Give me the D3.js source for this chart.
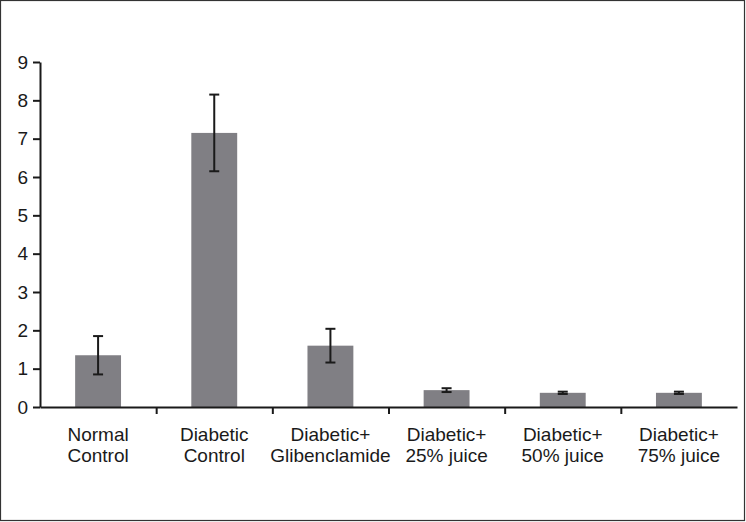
<!DOCTYPE html>
<html>
<head>
<meta charset="utf-8">
<script src="https://cdn.jsdelivr.net/npm/d3@7"></script>
<style>
html,body{margin:0;padding:0;background:#fff;}
svg{display:block;}
text{font-family:"Liberation Sans",Arial,sans-serif;fill:#1a1a1a;}
</style>
</head>
<body>
<script>
const categories = [
  ["Normal", "Control"],
  ["Diabetic", "Control"],
  ["Diabetic+", "Glibenclamide"],
  ["Diabetic+", "25% juice"],
  ["Diabetic+", "50% juice"],
  ["Diabetic+", "75% juice"]
];
const values = [1.35, 7.15, 1.6, 0.44, 0.37, 0.37];
const errors = [0.5, 1.0, 0.44, 0.05, 0.03, 0.03];
const yTicks = [0, 1, 2, 3, 4, 5, 6, 7, 8, 9];

const W = 746, H = 522;
const svg = d3.select("body").append("svg").attr("width", W).attr("height", H);

svg.append("rect").attr("x", 0.5).attr("y", 0.5).attr("width", W - 2).attr("height", H - 2)
  .attr("fill", "#fff").attr("stroke", "#333").attr("stroke-width", 1.2);

const ids = categories.map((c, i) => i);
const x = d3.scaleBand().domain(ids).range([40, 737]).padding(0);
const y = d3.scaleLinear().domain([0, 9]).range([407, 62]);

const barW = x.bandwidth() * 0.395;

// bars
svg.selectAll("rect.bar").data(ids).enter().append("rect")
  .attr("class", "bar")
  .attr("x", i => x(i) + (x.bandwidth() - barW) / 2)
  .attr("width", barW)
  .attr("y", i => y(values[i]))
  .attr("height", i => y(0) - y(values[i]))
  .attr("fill", "#807f84");

// error bars
const eg = svg.selectAll("g.err").data(ids).enter().append("g").attr("class", "err")
  .attr("stroke", "#1a1a1a").attr("stroke-width", 2);
const cx = i => x(i) + x.bandwidth() / 2;
eg.append("line").attr("x1", cx).attr("x2", cx)
  .attr("y1", i => y(values[i] + errors[i])).attr("y2", i => y(values[i] - errors[i]));
eg.append("line").attr("x1", i => cx(i) - 5).attr("x2", i => cx(i) + 5)
  .attr("y1", i => y(values[i] + errors[i])).attr("y2", i => y(values[i] + errors[i]));
eg.append("line").attr("x1", i => cx(i) - 5).attr("x2", i => cx(i) + 5)
  .attr("y1", i => y(values[i] - errors[i])).attr("y2", i => y(values[i] - errors[i]));

// y axis
const yAxis = d3.axisLeft(y).tickValues(yTicks).tickSize(7).tickSizeOuter(0).tickPadding(5);
const gy = svg.append("g").attr("transform", "translate(40,0)").call(yAxis);
gy.selectAll("path,line").attr("stroke", "#1a1a1a").attr("stroke-width", 2);
gy.selectAll("text").attr("font-size", 19).attr("fill", "#1a1a1a")
  .style("font-family", "'Liberation Sans',Arial,sans-serif");

// x axis (category boundaries ticks)
const boundaries = ids.slice(1).map(i => x(i));
const xl = d3.scaleLinear().domain([40, 737]).range([40, 737]);
const xAxis = d3.axisBottom(xl).tickValues(boundaries).tickSize(7).tickSizeOuter(0).tickFormat("");
const gx = svg.append("g").attr("transform", `translate(0,${y(0)})`).call(xAxis);
gx.selectAll("path,line").attr("stroke", "#1a1a1a").attr("stroke-width", 2);

// category labels
const lab = svg.selectAll("text.cat").data(ids).enter().append("text")
  .attr("class", "cat")
  .attr("text-anchor", "middle")
  .attr("font-size", 19);
lab.append("tspan").attr("x", cx).attr("y", 441).text(i => categories[i][0]);
lab.append("tspan").attr("x", cx).attr("y", 462).text(i => categories[i][1]);
</script>
</body>
</html>
